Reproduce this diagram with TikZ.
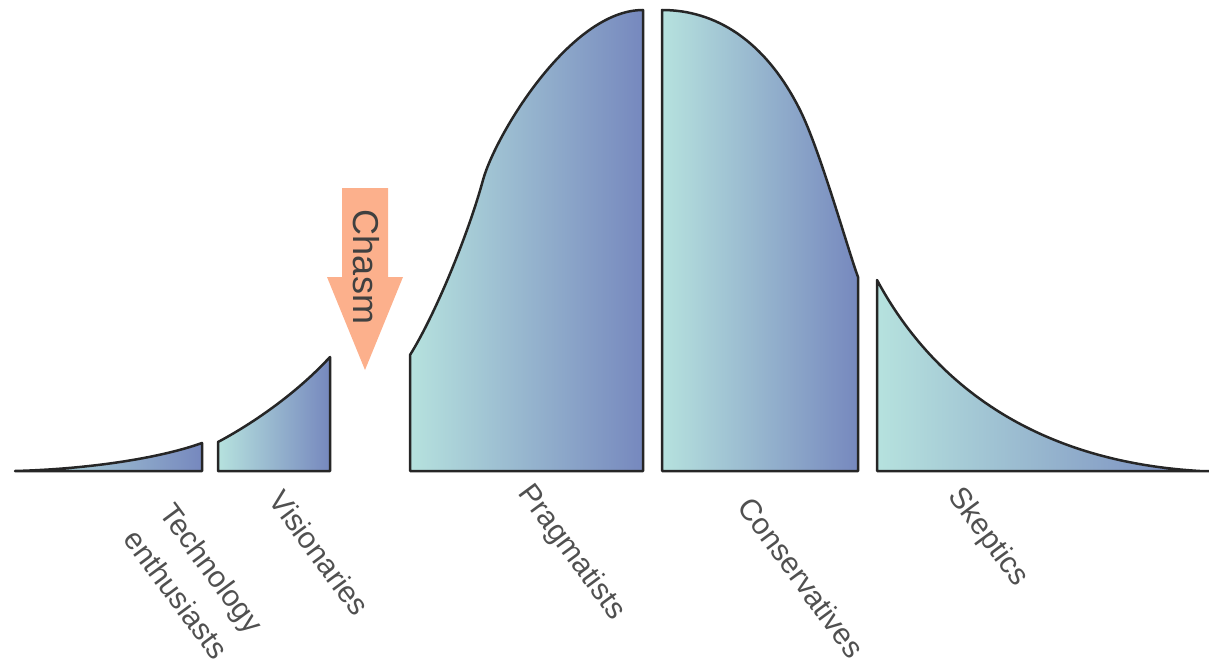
\documentclass[tikz,border=0pt]{standalone}
\usepackage{fontspec}
\setmainfont{Liberation Sans}
\usepackage{xcolor}
\usepackage{tikz}
\usetikzlibrary{positioning}

\definecolor{curvecyan}{RGB}{182,226,222}
\definecolor{curveblue}{RGB}{118,136,190}
\definecolor{chasmfill}{RGB}{252,176,140}
\definecolor{labelgray}{RGB}{80,80,80}

\begin{document}
\begin{tikzpicture}[
      x=1pt, y=-1pt,
      segment/.style={draw=black!85, line width=2.5pt, line join=round,
        left color=curvecyan, right color=curveblue},
      grouplabel/.style={rotate=-53.5, anchor=west, inner sep=0pt,
        text=labelgray, align=center,
        font=\fontsize{30}{44}\selectfont}
    ]
      \useasboundingbox (0,0) rectangle (1209,666);

      % the five groups under the curve
      \path[segment] (15,471) .. controls (90,469) and (160,458) .. (202,443)
        -- (202,471) -- cycle;
      \path[segment] (218,471) -- (218,442)
        .. controls (250,425) and (295,395) .. (330,357) -- (330,471) -- cycle;
      \path[segment] (410,471) -- (410,355)
        .. controls (435,315) and (468,235) .. (483,180)
        .. controls (495,136) and (570,10) .. (643,10) -- (643,471) -- cycle;
      \path[segment] (662,471) -- (662,10)
        .. controls (715,10) and (765,40) .. (800,110)
        .. controls (820,150) and (848,250) .. (858,277) -- (858,471) -- cycle;
      \path[segment] (877,471) -- (877,280)
        .. controls (920,360) and (1010,460) .. (1200,471)
        -- (1209,471) -- cycle;

      % chasm arrow
      \fill[chasmfill] (342,188) -- (388,188) -- (388,277) -- (403,277)
        -- (365,370) -- (327,277) -- (342,277) -- cycle;
      \node[rotate=-90, text=black!75, font=\fontsize{36}{40}\selectfont]
        (chasm) at (366,267) {Chasm};

      % group names
      \node[grouplabel] (tech) at (149,520) {Technology\\enthusiasts};
      \node[grouplabel] (vis) at (276,494) {Visionaries};
      \node[grouplabel] (prag) at (524,489) {Pragmatists};
      \node[grouplabel] (cons) at (745,501) {Conservatives};
      \node[grouplabel] (skep) at (954,492) {Skeptics};
    \end{tikzpicture}
\end{document}
